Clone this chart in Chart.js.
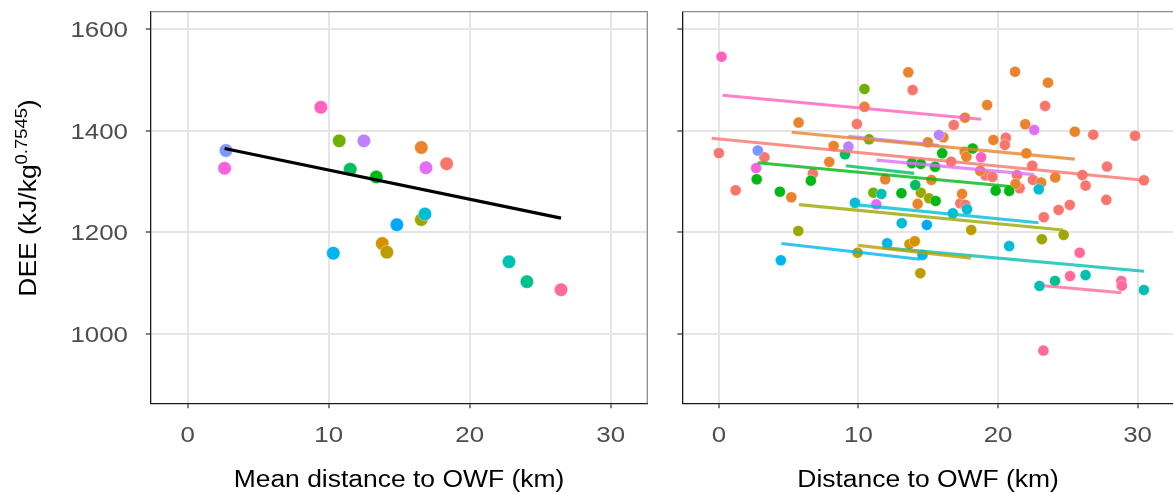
<!DOCTYPE html>
<html>
<head>
<meta charset="utf-8">
<script src="https://cdn.jsdelivr.net/npm/chart.js@4/dist/chart.umd.min.js"></script>
<style>
  html, body { margin: 0; padding: 0; background: #ffffff; overflow: hidden; }
  #wrap { position: relative; width: 1173px; height: 494px; overflow: hidden; background: #ffffff; }
  #wrap canvas { position: absolute; top: 0; }
</style>
</head>
<body>
<div id="wrap">
  <canvas id="meanPanel" width="660" height="494" style="left:0"></canvas>
  <canvas id="obsPanel" width="520" height="494" style="left:660px"></canvas>
</div>
<script>
// ---- axis ticks ----
const xTickVals = [0, 10, 20, 30];
const yTickVals = [1000, 1200, 1400, 1600];

// ---- per-bird means (left panel); bird index = palette slot ----
const meanBird = [13, 16, 17, 5, 14, 1, 0, 15, 7, 6, 4, 10, 12, 11, 2, 3, 9, 8, 18];
const meanDist = [2.72, 2.62, 9.45, 10.75, 12.5, 16.57, 18.37, 16.9, 11.53, 13.38, 16.57, 16.83, 14.84, 10.33, 13.8, 14.13, 22.79, 24.06, 26.48];
const meanDEE  = [1361, 1326, 1446, 1380, 1380, 1367, 1335, 1327, 1324, 1309, 1225, 1236, 1215, 1159, 1178, 1161, 1142, 1103, 1087];

// overall regression across bird means
const meanFitX = [2.62, 26.48];
const meanFitY = [1365, 1228];

// ---- individual observations (right panel) ----
const obsBird = [
  0,0,0,0,0,0,0,0,0,0,0,0,0,0,0,0,0,0,0,0,0,0,0,0,0,0,0,0,0,
  1,1,1,1,1,1,1,1,1,1,1,1,1,1,1,1,1,1,1,1,1,1,1,1,1,1,
  2,2,
  3,3,3,
  4,4,4,4,4,
  5,5,5,
  6,6,6,6,6,6,6,6,6,6,6,6,
  7,7,
  8,
  9,9,9,9,
  10,10,10,10,10,10,
  11,11,11,
  12,
  13,
  14,14,
  15,15,
  16,
  17,17,
  18,18,18,18,18
];
const obsDist = [
  13.88, 9.89, 0, 3.26, 6.73, 1.2, 23.37, 16.83, 26.82, 29.82, 20.56, 20.49, 16.64, 22.45, 27.81, 19.1, 19.6, 21.36, 26.04, 21.55, 22.5, 26.27, 30.45, 27.76, 25.14, 17.3, 17.66, 23.28, 24.34,
  13.57, 10.43, 5.71, 8.22, 7.91, 5.19, 14.97, 11.92, 15.23, 14.24, 21.22, 23.58, 19.22, 17.63, 21.95, 25.5, 16.08, 19.67, 17.61, 17.73, 22.03, 18.72, 24.1, 21.25, 23.09, 17.42,
  13.65, 14.04,
  9.94, 14.43, 18.08,
  5.69, 14.47, 15.06, 23.14, 24.7,
  10.43, 10.76, 11.07,
  2.71, 6.59, 4.37, 13.08, 13.83, 14.47, 15.49, 15.53, 16.0, 18.18, 19.83, 20.8,
  9.04, 14.07,
  24.08,
  11.64, 22.97, 26.27, 30.45,
  9.75, 13.1, 16.76, 17.78, 20.8, 22.92,
  4.44, 12.06, 14.59,
  14.9,
  2.79,
  9.28, 15.77,
  11.28, 22.59,
  2.67,
  0.19, 18.79,
  23.25, 25.16, 25.85, 28.83, 28.87
];
const obsDEE = [
  1480, 1413, 1356, 1347.6, 1315.5, 1282.8, 1448.6, 1411, 1392, 1390, 1386, 1371.9, 1339, 1331, 1329.3, 1312, 1309, 1312.6, 1312.6, 1286.7, 1303, 1292, 1302.4, 1264, 1254, 1257, 1254, 1229.7, 1244,
  1514.8, 1447, 1416, 1370, 1338.5, 1269, 1377, 1304.4, 1303, 1256, 1516, 1494.4, 1450.5, 1425.6, 1412.6, 1398, 1387, 1381.7, 1358.7, 1349, 1355.5, 1321, 1308, 1295, 1297.8, 1275.5,
  1176.6, 1182.5,
  1160, 1119.6, 1204.7,
  1202.7, 1278, 1267, 1186.5, 1195,
  1482, 1383, 1278,
  1304.4, 1301.7, 1280, 1277, 1336, 1334.5, 1329, 1261.7, 1355.5, 1365, 1282, 1281.4,
  1353.6, 1293,
  1104.5,
  1275.5, 1094.6, 1116, 1086.7,
  1258, 1218, 1237.5, 1245.4, 1173, 1284.7,
  1145, 1178.5, 1155.6,
  1214.6,
  1361,
  1368.6, 1391.5,
  1255, 1401.4,
  1326.5,
  1545.5, 1347.7,
  967.4, 1114, 1160, 1104.4, 1095
];

// per-bird fitted lines (right panel)
const fitBird = [17, 0, 1, 14, 15, 6, 7, 4, 10, 11, 3, 9, 18];
const fitX0 = [0.26, -0.52, 5.22, 9.28, 11.3, 2.78, 9.09, 5.74, 9.75, 4.48, 9.99, 11.7, 23.28];
const fitY0 = [1469.6, 1385, 1397, 1389, 1342, 1337, 1331, 1254.5, 1254.5, 1178, 1174.4, 1170, 1095];
const fitX1 = [18.79, 30.45, 25.5, 15.77, 22.57, 20.9, 14.0, 24.67, 22.9, 14.4, 18.06, 30.45, 28.83];
const fitY1 = [1422.4, 1302.4, 1344, 1371, 1313.5, 1290, 1316, 1204.6, 1219, 1147, 1149, 1123.5, 1081];

// ---- colours: evenly spaced HCL hues (chroma 100, luminance 65) ----
function hclRGB(h, c, l) {
  const d = h * Math.PI / 180;
  const U = c * Math.cos(d), V = c * Math.sin(d);
  const Y = 100 * Math.pow((l + 16) / 116, 3);
  const u = U / (13 * l) + 0.1978398;
  const v = V / (13 * l) + 0.4683363;
  const X = 9 * Y * u / (4 * v);
  const Z = -X / 3 - 5 * Y + 3 * Y / v;
  const g = t => {
    t = t / 100;
    t = t > 0.00304 ? 1.055 * Math.pow(t, 1 / 2.4) - 0.055 : 12.92 * t;
    return Math.round(255 * Math.min(1, Math.max(0, t)));
  };
  return [
    g(3.240479 * X - 1.537150 * Y - 0.498535 * Z),
    g(-0.969256 * X + 1.875992 * Y + 0.041556 * Z),
    g(0.055648 * X - 0.204043 * Y + 1.057311 * Z)
  ];
}
const nBirds = 19;
const palette = [];
for (let i = 0; i < nBirds; i++) palette.push(hclRGB(15 + i * 360 / nBirds, 100, 65));
const rgba = (i, a) => `rgba(${palette[i][0]},${palette[i][1]},${palette[i][2]},${a})`;

// ---- shared look ----
const X_MIN = -2.62, X_MAX = 32.6, Y_MIN = 863.7, Y_MAX = 1634;
const TICK_FONT = '22.5px "Liberation Sans", Arial, sans-serif';
const TITLE_SIZE = 23;
const TITLE_FONT = TITLE_SIZE + 'px "Liberation Sans", Arial, sans-serif';
const SUP_FONT = '16px "Liberation Sans", Arial, sans-serif';
const STRETCH = 1.15;

function wideText(ctx, text, x, y, align) {
  ctx.save();
  ctx.translate(x, y);
  ctx.scale(STRETCH, 1);
  ctx.textAlign = align;
  ctx.textBaseline = 'alphabetic';
  ctx.fillText(text, 0, 0);
  ctx.restore();
}

function scales(yWidth) {
  const grid = { color: '#E5E5E5', lineWidth: 2, tickLength: 5, tickColor: '#333333', tickWidth: 1.2, drawTicks: true };
  const border = { display: true, color: '#1a1a1a', width: 1.3 };
  return {
    x: {
      type: 'linear', min: X_MIN, max: X_MAX,
      afterBuildTicks: s => { s.ticks = xTickVals.map(v => ({ value: v })); },
      afterFit: s => { s.height = 90.7; },
      ticks: { display: false },
      grid, border
    },
    y: {
      type: 'linear', min: Y_MIN, max: Y_MAX,
      afterBuildTicks: s => { s.ticks = yTickVals.map(v => ({ value: v })); },
      afterFit: s => { s.width = yWidth; },
      ticks: { display: false },
      grid, border
    }
  };
}

// panel frame (top/right) plus tick labels and axis titles
function panelDecor(showY, xTitle) {
  return {
    id: 'panelDecor',
    afterDraw(chart) {
      const { ctx, chartArea: a, scales: s } = chart;
      ctx.save();
      ctx.strokeStyle = '#8c8c8c';
      ctx.lineWidth = 1.3;
      ctx.beginPath();
      ctx.moveTo(a.left, a.top);
      ctx.lineTo(a.right, a.top);
      ctx.lineTo(a.right, a.bottom);
      ctx.stroke();

      ctx.fillStyle = '#4D4D4D';
      ctx.font = TICK_FONT;
      xTickVals.forEach(v => wideText(ctx, String(v), s.x.getPixelForValue(v), 442, 'center'));
      if (showY) {
        yTickVals.forEach(v => wideText(ctx, String(v), 128, s.y.getPixelForValue(v) + 8, 'right'));
      }

      ctx.fillStyle = '#000000';
      ctx.font = TITLE_FONT;
      wideText(ctx, xTitle, (a.left + a.right) / 2, 487, 'center');

      if (showY) {
        const main = 'DEE (kJ/kg', sup = '0.7545', close = ')';
        ctx.font = TITLE_FONT; const w1 = ctx.measureText(main).width; const w3 = ctx.measureText(close).width;
        ctx.font = SUP_FONT; const w2 = ctx.measureText(sup).width;
        const total = w1 + w2 + w3;
        ctx.save();
        ctx.translate(36, 198);
        ctx.rotate(-Math.PI / 2);
        ctx.scale(STRETCH, 1);
        ctx.textAlign = 'left';
        ctx.textBaseline = 'alphabetic';
        let x0 = -total / 2;
        ctx.font = TITLE_FONT; ctx.fillText(main, x0, 0);
        ctx.font = SUP_FONT; ctx.fillText(sup, x0 + w1, -9);
        ctx.font = TITLE_FONT; ctx.fillText(close, x0 + w1 + w2, 0);
        ctx.restore();
      }
      ctx.restore();
    }
  };
}

const common = {
  responsive: false,
  animation: false,
  devicePixelRatio: 1,
  plugins: { legend: { display: false }, tooltip: { enabled: false } }
};

// ---- left panel: bird means ----
new Chart(document.getElementById('meanPanel'), {
  type: 'scatter',
  data: {
    datasets: [
      {
        type: 'line',
        data: meanFitX.map((x, i) => ({ x, y: meanFitY[i] })),
        borderColor: '#000000', borderWidth: 3.2, pointRadius: 0, fill: false
      },
      {
        data: meanDist.map((x, i) => ({ x, y: meanDEE[i] })),
        backgroundColor: meanBird.map(b => rgba(b, 1)),
        borderColor: 'rgba(255,255,255,0.6)', borderWidth: 0.6,
        pointRadius: 6.7
      }
    ]
  },
  options: Object.assign({}, common, {
    layout: { padding: { top: 11.7, right: 12.7, left: 0, bottom: 0 } },
    scales: scales(150.7)
  }),
  plugins: [panelDecor(true, 'Mean distance to OWF (km)')]
});

// ---- right panel: individual observations with per-bird fits ----
const fitSets = fitBird.map((b, i) => ({
  type: 'line',
  data: [{ x: fitX0[i], y: fitY0[i] }, { x: fitX1[i], y: fitY1[i] }],
  borderColor: rgba(b, 0.8), borderWidth: 3.1, pointRadius: 0, fill: false
}));

new Chart(document.getElementById('obsPanel'), {
  type: 'scatter',
  data: {
    datasets: fitSets.concat([{
      data: obsDist.map((x, i) => ({ x, y: obsDEE[i] })),
      backgroundColor: obsBird.map(b => rgba(b, 1)),
      borderColor: 'rgba(255,255,255,0.6)', borderWidth: 0.6,
      pointRadius: 5.5
    }])
  },
  options: Object.assign({}, common, {
    layout: { padding: { top: 11.7, right: 1.1, left: 0, bottom: 0 } },
    scales: scales(22.3)
  }),
  plugins: [panelDecor(false, 'Distance to OWF (km)')]
});
</script>
</body>
</html>
